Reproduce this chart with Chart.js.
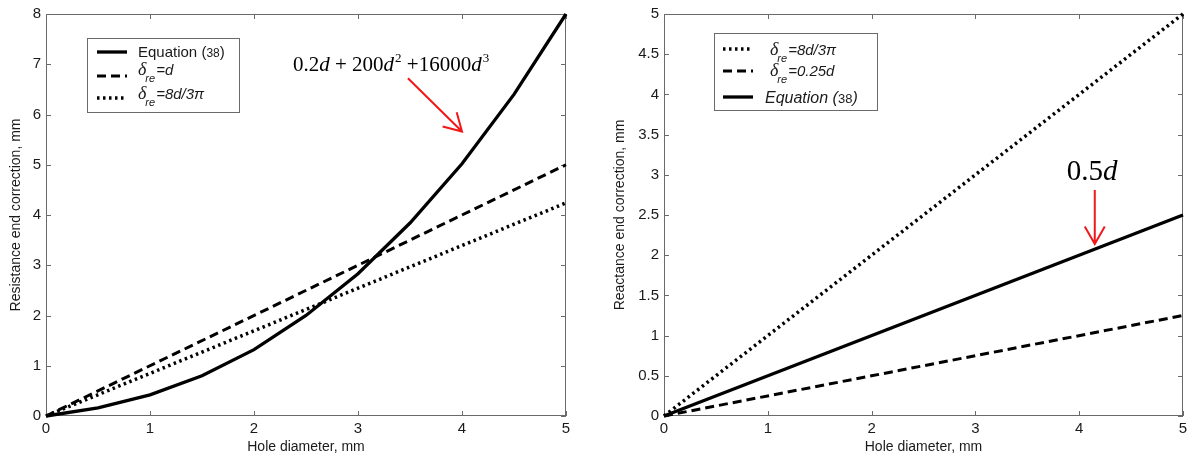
<!DOCTYPE html>
<html>
<head>
<meta charset="utf-8">
<script src="https://cdn.jsdelivr.net/npm/chart.js@4.4.1/dist/chart.umd.min.js"></script>
<style>
  html, body { margin: 0; padding: 0; background: #fff; }
  #wrap { position: relative; width: 1193px; height: 465px; overflow: hidden; }
  #cv-res { position: absolute; left: 0; top: 0; }
  #cv-rea { position: absolute; left: 596px; top: 0; }
</style>
</head>
<body>
<div id="wrap">
  <canvas id="cv-res" width="596" height="465"></canvas>
  <canvas id="cv-rea" width="597" height="465"></canvas>
</div>
<script>
// ── Data ─────────────────────────────────────────────────────────────────────

const DIAMETER     = [0, 0.5, 1, 1.5, 2, 2.5, 3, 3.5, 4, 4.5, 5]
const RES_EQ38     = [0, 0.16, 0.42, 0.8, 1.32, 2.0, 2.83, 3.84, 5.02, 6.4, 8.0]
const LINE_ENDS    = [0, 5]
const RES_DELTA_D  = [0, 5]
const RES_DELTA_PI = [0, 4.24]

const REA_DELTA_PI = [0, 5]
const REA_DELTA_Q  = [0, 1.25]
const REA_EQ38     = [0, 2.5]

const X_TICKS     = [0, 1, 2, 3, 4, 5]
const RES_Y_TICKS = [0, 1, 2, 3, 4, 5, 6, 7, 8]
const REA_Y_TICKS = [0, 0.5, 1, 1.5, 2, 2.5, 3, 3.5, 4, 4.5, 5]

// ── Shared look ──────────────────────────────────────────────────────────────

const SANS  = '"Liberation Sans", Arial, sans-serif'
const SERIF = '"Liberation Serif", "Times New Roman", serif'
const INK   = '#1a1a1a'
const FRAME = '#6a6a6a'
const RED   = '#f01818'

Chart.defaults.font.family = SANS
Chart.defaults.color = INK

const STYLE = {
  solid:  { borderWidth: 3.3, borderDash: [] },
  dashed: { borderWidth: 3,   borderDash: [9, 5] },
  dotted: { borderWidth: 3.5, borderDash: [2.5, 3.5] },
}

const pts = (xs, ys) => xs.map((x, i) => ({ x, y: ys[i] }))

function _series(label, data, kind) {
  return {
    label,
    data,
    borderColor: '#000',
    backgroundColor: '#000',
    pointRadius: 0,
    tension: 0,
    clip: false,
    borderCapStyle: 'butt',
    ...STYLE[kind],
  }
}

// frame box + inward ticks on all four sides (matlab style)
const frameTicks = {
  id: 'frameTicks',
  beforeDatasetsDraw(chart) {
    const { ctx, chartArea: a, scales: { x, y } } = chart
    ctx.save()
    ctx.strokeStyle = FRAME
    ctx.lineWidth = 1
    ctx.setLineDash([])
    ctx.strokeRect(a.left + 0.5, a.top + 0.5, a.right - a.left - 1, a.bottom - a.top - 1)
    const len = 5
    ctx.beginPath()
    x.ticks.forEach(t => {
      const px = Math.round(x.getPixelForValue(t.value)) + 0.5
      ctx.moveTo(px, a.bottom); ctx.lineTo(px, a.bottom - len)
      ctx.moveTo(px, a.top);    ctx.lineTo(px, a.top + len)
    })
    y.ticks.forEach(t => {
      const py = Math.round(y.getPixelForValue(t.value)) + 0.5
      ctx.moveTo(a.left, py);  ctx.lineTo(a.left + len, py)
      ctx.moveTo(a.right, py); ctx.lineTo(a.right - len, py)
    })
    ctx.stroke()
    ctx.restore()
  },
}

// text made of runs with their own fonts / baseline shifts
function _runs(ctx, x, y, runs) {
  ctx.textBaseline = 'alphabetic'
  ctx.textAlign = 'left'
  let cx = x
  for (const r of runs) {
    ctx.font = r.f
    ctx.fillText(r.t, cx + (r.dx || 0), y + (r.dy || 0))
    cx += ctx.measureText(r.t).width + (r.dx || 0)
  }
}

function _legendPlugin(cfg) {
  return {
    id: 'boxLegend',
    afterDatasetsDraw(chart) {
      const ctx = chart.ctx
      ctx.save()
      ctx.fillStyle = '#fff'
      ctx.fillRect(cfg.box[0], cfg.box[1], cfg.box[2], cfg.box[3])
      ctx.strokeStyle = FRAME
      ctx.lineWidth = 1
      ctx.strokeRect(cfg.box[0] + 0.5, cfg.box[1] + 0.5, cfg.box[2], cfg.box[3])
      for (const row of cfg.rows) {
        const st = STYLE[row.kind]
        ctx.strokeStyle = '#000'
        ctx.lineWidth = st.borderWidth
        ctx.setLineDash(st.borderDash)
        ctx.beginPath()
        ctx.moveTo(cfg.sample[0], row.y)
        ctx.lineTo(cfg.sample[1], row.y)
        ctx.stroke()
        ctx.setLineDash([])
        ctx.fillStyle = INK
        _runs(ctx, row.tx, row.base, row.runs)
      }
      ctx.restore()
    },
  }
}

function _annotPlugin(cfg) {
  return {
    id: 'annot',
    afterDatasetsDraw(chart) {
      const { ctx, scales: { x, y } } = chart
      ctx.save()
      ctx.fillStyle = '#000'
      _runs(ctx, x.getPixelForValue(cfg.text[0]), y.getPixelForValue(cfg.text[1]), cfg.runs)
      const x0 = x.getPixelForValue(cfg.tail[0]), y0 = y.getPixelForValue(cfg.tail[1])
      const x1 = x.getPixelForValue(cfg.tip[0]),  y1 = y.getPixelForValue(cfg.tip[1])
      const ang = Math.atan2(y1 - y0, x1 - x0)
      const hl = 20, ha = Math.PI / 6
      ctx.strokeStyle = RED
      ctx.lineWidth = 2
      ctx.beginPath()
      ctx.moveTo(x0, y0); ctx.lineTo(x1, y1)
      ctx.moveTo(x1 - hl * Math.cos(ang - ha), y1 - hl * Math.sin(ang - ha))
      ctx.lineTo(x1, y1)
      ctx.lineTo(x1 - hl * Math.cos(ang + ha), y1 - hl * Math.sin(ang + ha))
      ctx.stroke()
      ctx.restore()
    },
  }
}

function _options(yTicks, yMax, yTitle, yWidth, yTitlePad, padRight) {
  return {
    responsive: false,
    animation: false,
    layout: { padding: { top: 9, right: padRight, left: 0, bottom: 0 } },
    plugins: { legend: { display: false }, tooltip: { enabled: false } },
    scales: {
      x: {
        type: 'linear', min: 0, max: 5,
        afterBuildTicks: s => { s.ticks = X_TICKS.map(v => ({ value: v })) },
        afterFit: s => { s.height = 49 },
        grid: { display: false, drawTicks: false },
        border: { display: false },
        ticks: { padding: 4, font: { size: 15 }, color: INK, maxRotation: 0, callback: v => String(v) },
        title: { display: true, text: 'Hole diameter, mm', font: { size: 14 }, color: INK, padding: { top: 0, bottom: 9 } },
      },
      y: {
        type: 'linear', min: 0, max: yMax,
        afterBuildTicks: s => { s.ticks = yTicks.map(v => ({ value: v })) },
        afterFit: s => { s.width = yWidth },
        grid: { display: false, drawTicks: false },
        border: { display: false },
        ticks: { padding: 5, font: { size: 15 }, color: INK, callback: v => String(v) },
        title: { display: true, text: yTitle, font: { size: 14 }, color: INK, padding: { top: yTitlePad, bottom: 0 } },
      },
    },
  }
}

const D_SUB = (t) => [
  { t: 'δ', f: `italic 18px ${SERIF}` },
  { t: 're', f: `italic 11px ${SANS}`, dy: 7, dx: -1 },
  { t, f: `italic 15px ${SANS}`, dx: 1 },
]

// ── Left: resistance end correction ──────────────────────────────────────────

new Chart(document.getElementById('cv-res'), {
  type: 'line',
  data: {
    datasets: [
      _series('Equation (38)', pts(DIAMETER, RES_EQ38), 'solid'),
      _series('δre=d', pts(LINE_ENDS, RES_DELTA_D), 'dashed'),
      _series('δre=8d/3π', pts(LINE_ENDS, RES_DELTA_PI), 'dotted'),
    ],
  },
  options: _options(RES_Y_TICKS, 8, 'Resistance end correction, mm', 46, 8, 30),
  plugins: [
    frameTicks,
    _legendPlugin({
      box: [87, 38, 152, 74],
      sample: [97, 127],
      rows: [
        { kind: 'solid', y: 52, tx: 138, base: 57, runs: [
          { t: 'Equation (', f: `15px ${SANS}` },
          { t: '38', f: `12px ${SANS}` },
          { t: ')', f: `15px ${SANS}` },
        ] },
        { kind: 'dashed', y: 76, tx: 138, base: 75, runs: D_SUB('=d') },
        { kind: 'dotted', y: 98, tx: 138, base: 99, runs: D_SUB('=8d/3π') },
      ],
    }),
    _annotPlugin({
      text: [2.375, 6.86],
      runs: [
        { t: '0.2', f: `21px ${SERIF}` },
        { t: 'd', f: `italic 21px ${SERIF}` },
        { t: ' + 200', f: `21px ${SERIF}` },
        { t: 'd', f: `italic 21px ${SERIF}` },
        { t: '2', f: `13px ${SERIF}`, dy: -9, dx: 1 },
        { t: ' +16000', f: `21px ${SERIF}` },
        { t: 'd', f: `italic 21px ${SERIF}` },
        { t: '3', f: `13px ${SERIF}`, dy: -9, dx: 1 },
      ],
      tail: [3.48, 6.72],
      tip: [4.0, 5.66],
    }),
  ],
})

// ── Right: reactance end correction ──────────────────────────────────────────

new Chart(document.getElementById('cv-rea'), {
  type: 'line',
  data: {
    datasets: [
      _series('δre=8d/3π', pts(LINE_ENDS, REA_DELTA_PI), 'dotted'),
      _series('δre=0.25d', pts(LINE_ENDS, REA_DELTA_Q), 'dashed'),
      _series('Equation (38)', pts(LINE_ENDS, REA_EQ38), 'solid'),
    ],
  },
  options: _options(REA_Y_TICKS, 5, 'Reactance end correction, mm', 68, 16, 10),
  plugins: [
    frameTicks,
    _legendPlugin({
      box: [118, 33, 163, 77],
      sample: [127, 157],
      rows: [
        { kind: 'dotted', y: 49, tx: 174, base: 55, runs: D_SUB('=8d/3π') },
        { kind: 'dashed', y: 71, tx: 174, base: 76, runs: D_SUB('=0.25d') },
        { kind: 'solid', y: 97, tx: 169, base: 103, runs: [
          { t: 'Equation (', f: `italic 16px ${SANS}` },
          { t: '38', f: `13px ${SANS}` },
          { t: ')', f: `italic 16px ${SANS}` },
        ] },
      ],
    }),
    _annotPlugin({
      text: [3.88, 2.94],
      runs: [
        { t: '0.5', f: `29px ${SERIF}` },
        { t: 'd', f: `italic 29px ${SERIF}` },
      ],
      tail: [4.15, 2.81],
      tip: [4.15, 2.14],
    }),
  ],
})
</script>
</body>
</html>
